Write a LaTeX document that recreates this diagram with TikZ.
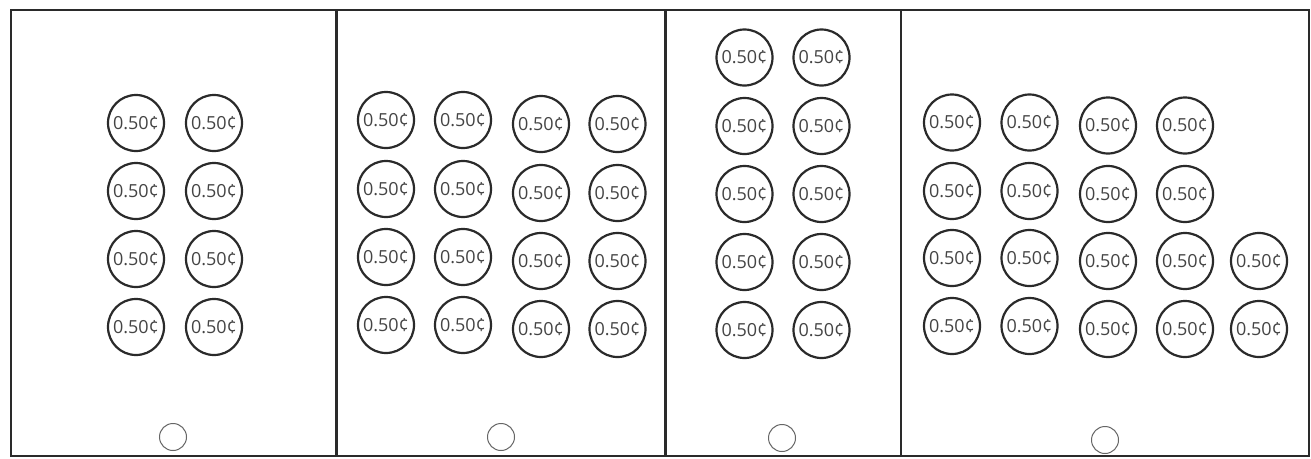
\documentclass[tikz,border=0pt]{standalone}
\usepackage{fontspec}
\setmainfont{Open Sans}
\definecolor{ink}{HTML}{2A2A2A}
\definecolor{txt}{HTML}{444444}
\definecolor{btn}{HTML}{666666}
\begin{document}
\begin{tikzpicture}[x=1pt,y=-1pt,
  coin/.style={circle,draw=ink,line width=2.2pt,minimum size=56pt,inner sep=0pt,
    text=txt,font=\fontsize{18}{18}\selectfont},
  homebtn/.style={circle,draw=btn,line width=1pt,minimum size=27pt,inner sep=0pt},
  frame/.style={draw=ink,line width=2.2pt}]
\useasboundingbox (0,0) rectangle (1311,458);
\path[fill=white] (0,0) rectangle (1311,458);
% panels
\coordinate (tl) at (11,10);
\coordinate (br) at (1309,456);
\draw[frame] (tl) rectangle (br);
\coordinate (d1t) at (336.5,10); \coordinate (d1b) at (336.5,456);
\coordinate (d2t) at (665.5,10); \coordinate (d2b) at (665.5,456);
\coordinate (d3t) at (901,10);   \coordinate (d3b) at (901,456);
\draw[frame] (d1t) -- (d1b);
\draw[frame] (d2t) -- (d2b);
\draw[frame] (d3t) -- (d3b);
% panel 1
\foreach \c/\x in {1/136,2/214}
  \foreach \r/\y in {1/123,2/191,3/259,4/327}
    \node[coin] (pa-\r-\c) at (\x,\y) {0.50¢};
\node[homebtn] (ha) at (173,437) {};
% panel 2
\foreach \c/\x/\dy in {1/386/0,2/463/0,3/541/4,4/617.5/4}
  \foreach \r/\y in {1/120,2/189,3/257,4/325}
    \node[coin] (pb-\r-\c) at (\x,\y+\dy) {0.50¢};
\node[homebtn] (hb) at (501,437) {};
% panel 3
\foreach \c/\x in {1/744.5,2/821.5}
  \foreach \r/\y in {1/57.5,2/126,3/194,4/262,5/330}
    \node[coin] (pc-\r-\c) at (\x,\y) {0.50¢};
\node[homebtn] (hc) at (782,438) {};
% panel 4
\foreach \c/\x/\dy in {1/952/0,2/1029.5/0,3/1108/3,4/1185/3}
  \foreach \r/\y in {1/122.5,2/191,3/258,4/326}
    \node[coin] (pd-\r-\c) at (\x,\y+\dy) {0.50¢};
\foreach \r/\y in {3/261,4/329}
  \node[coin] (pd-\r-5) at (1259,\y) {0.50¢};
\node[homebtn] (hd) at (1105,440) {};
\end{tikzpicture}
\end{document}
